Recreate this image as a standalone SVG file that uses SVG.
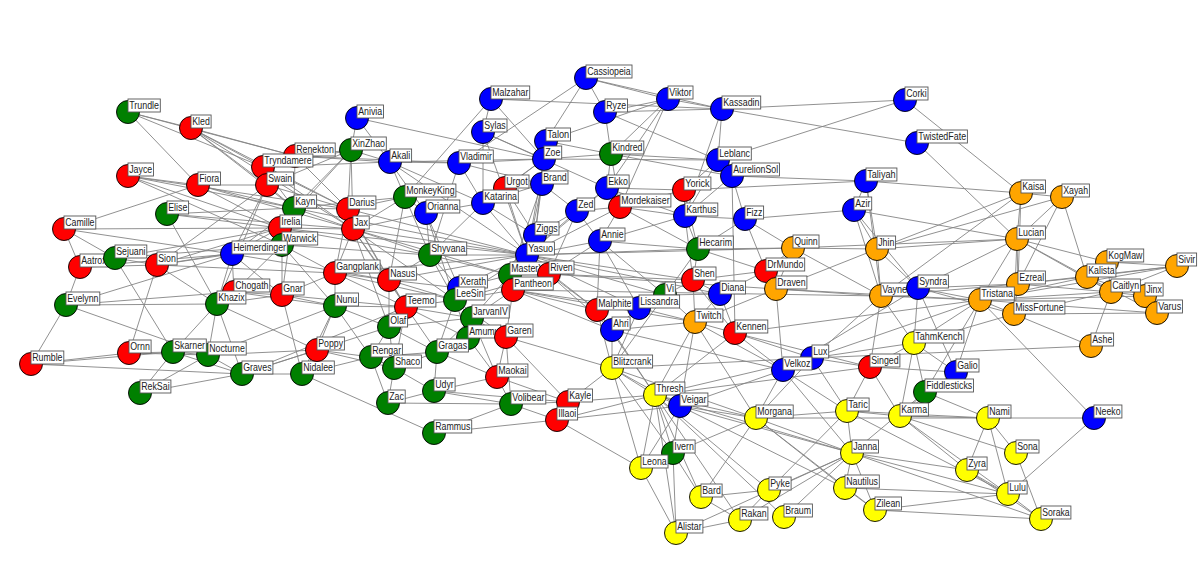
<svg xmlns="http://www.w3.org/2000/svg" width="1200" height="573" viewBox="0 0 1200 573">
<style>
.e{stroke:#858585;stroke-width:0.9;fill:none}
circle{stroke:#000;stroke-width:0.9}
.R{fill:#ff0000}.G{fill:#008000}.B{fill:#0000ff}.O{fill:#ffa500}.Y{fill:#ffff00}
g rect{fill:#fff;stroke:#555;stroke-width:0.9}
text{font-family:"Liberation Sans",Arial,sans-serif;font-size:11px;fill:#222}
</style>
<rect width="1200" height="573" fill="#fff"/>
<g id="edges" class="e">
<path d="M128 112L263 167M128 112L295 156M128 112L198 185M128 112L191 128M191 128L263 167M191 128L295 156M191 128L267 185M191 128L294 208M191 128L348 209M191 128L353 229M128 176L294 208M128 176L280 228M128 176L198 185M128 176L282 245M128 176L348 209M198 185L64 229M198 185L294 208M198 185L280 228M198 185L353 229M198 185L267 185M167 214L294 208M167 214L217 304M167 214L280 228M167 214L353 229M64 229L280 228M64 229L80 267M64 229L115 258M64 229L232 254M263 167L295 156M263 167L294 208M263 167L348 209M263 167L351 150M263 167L353 229M263 167L390 162M267 185L294 208M267 185L232 254M267 185L157 265M267 185L348 209M267 185L351 150M267 185L217 304M295 156L390 162M295 156L351 150M295 156L294 208M295 156L348 209M295 156L459 163M294 208L348 209M294 208L280 228M294 208L353 229M294 208L282 245M294 208L232 254M294 208L405 197M294 208L282 295M294 208L527 255M280 228L353 229M280 228L157 265M280 228L115 258M280 228L232 254M280 228L527 255M280 228L430 255"/>
<path d="M357 118L351 150M357 118L390 162M357 118L544 159M351 150L348 209M351 150L294 208M351 150L280 228M351 150L353 229M351 150L390 162M390 162L426 213M390 162L459 163M390 162L544 159M390 162L405 197M390 162L527 255M390 162L483 203M491 99L405 197M491 99L544 159M491 99L722 109M491 99L483 132M483 132L544 159M483 132L607 188M483 132L483 203M483 132L527 255M459 163L483 203M459 163L544 159M459 163L542 184M459 163L430 255M546 141L544 159M546 141L586 78M546 141L611 154M546 141L668 99M544 159L542 184M544 159L483 203M544 159L535 235M544 159L611 154M544 159L527 255M544 159L718 160M542 184L535 235M542 184L577 211M542 184L483 203M542 184L527 255M542 184L510 275M505 188L544 159M505 188L483 203M505 188L527 255M505 188L535 235M483 203L535 235M483 203L426 213M483 203L527 255M483 203L430 255M405 197L348 209M405 197L426 213M405 197L353 229M405 197L430 255M405 197L389 280M426 213L353 229M426 213L430 255M426 213L459 288M426 213L455 300M348 209L353 229M348 209L335 273M348 209L389 280M348 209L527 255M348 209L406 307M353 229L335 273M353 229L389 280M353 229L430 255M353 229L527 255M353 229L455 300M353 229L406 307M353 229L510 275M353 229L389 327"/>
<path d="M577 211L535 235M577 211L607 188M577 211L527 255M577 211L600 241M577 211L620 207M577 211L549 274M586 78L459 163M586 78L605 112M586 78L668 99M586 78L722 109M535 235L527 255M535 235L510 275M535 235L513 290M605 112L611 154M605 112L718 160M605 112L668 99M605 112L722 109M607 188L611 154M607 188L620 207M607 188L527 255M607 188L685 216M607 188L684 190M668 99L722 109M668 99L611 154M668 99L620 207M668 99L607 188M722 109L718 160M722 109L905 100M722 109L917 143M722 109L685 216M611 154L718 160M611 154L732 176M611 154L620 207M718 160L732 176M718 160L905 100M718 160L684 190M718 160L685 216M732 176L866 181M732 176L745 219M732 176L685 216M732 176L735 333M866 181L1021 193M866 181L854 210M866 181L877 249M866 181L881 296M684 190L620 207M684 190L685 216M684 190L866 181M684 190L698 249M620 207L685 216M620 207L600 241M620 207L698 249M620 207L527 255M685 216L745 219M685 216L600 241M685 216L698 249M685 216L693 280M745 219L854 210M745 219L698 249M745 219L766 271M745 219L793 248M854 210L877 249M854 210L1017 239M854 210L881 296M854 210L918 288M917 143L1017 239M905 100L1021 193M1021 193L1062 197M1021 193L1017 239M1021 193L881 296M1021 193L877 249M1021 193L1018 284M1062 197L1017 239M1062 197L877 249M1062 197L1018 284M1062 197L1087 277"/>
<path d="M80 267L66 305M80 267L115 258M80 267L157 265M80 267L232 254M115 258L173 352M115 258L157 265M115 258L282 245M157 265L232 254M157 265L282 245M157 265L129 353M157 265L217 304M157 265L335 273M232 254L217 304M232 254L234 292M232 254L282 245M232 254L282 295M232 254L66 305M232 254L389 280M282 245L234 292M282 245L282 295M282 245L335 273M282 245L335 306M282 245L430 255M66 305L217 304M66 305L208 355M66 305L31 364M66 305L234 292M234 292L217 304M234 292L282 295M234 292L335 306M217 304L173 352M217 304L208 355M217 304L242 374M217 304L282 295M217 304L317 350M282 295L335 306M282 295L335 273M282 295L406 307M282 295L302 374M31 364L129 353M31 364L242 374M31 364L173 352M129 353L173 352M129 353L208 355M173 352L140 393M173 352L208 355M173 352L242 374M208 355L140 393M208 355L242 374M208 355L335 306M208 355L317 350M242 374L140 393M242 374L302 374M242 374L317 350M242 374L406 307M242 374L389 327M302 374L317 350M302 374L434 433M302 374L371 357M302 374L335 306"/>
<path d="M430 255L527 255M430 255L389 280M430 255L455 300M430 255L459 288M430 255L510 275M335 273L389 280M335 273L335 306M335 273L406 307M335 273L527 255M335 273L455 300M389 280L406 307M389 280L389 327M389 280L455 300M389 280L527 255M389 280L459 288M335 306L389 327M335 306L406 307M335 306L371 357M335 306L317 350M406 307L389 327M406 307L455 300M406 307L472 318M406 307L468 338M406 307L437 352M406 307L394 368M389 327L371 357M389 327L394 368M389 327L437 352M389 327L472 318M459 288L455 300M459 288L527 255M459 288L510 275M455 300L527 255M455 300L472 318M455 300L513 290M455 300L468 338M455 300L506 337M455 300L437 352M455 300L549 274M527 255L510 275M527 255L549 274M527 255L513 290M527 255L600 241M527 255L693 280M527 255L597 310M527 255L639 308M527 255L665 295M527 255L698 249M527 255L612 330M527 255L720 294M527 255L793 248M510 275L513 290M510 275L549 274M510 275L472 318M549 274L513 290M549 274L693 280M549 274L597 310M549 274L600 241M549 274L776 289M513 290L472 318M513 290L506 337M513 290L597 310M513 290L639 308M513 290L612 330M513 290L695 322M513 290L881 296"/>
<path d="M472 318L468 338M472 318L506 337M472 318L437 352M472 318L497 377M468 338L506 337M468 338L437 352M468 338L497 377M506 337L497 377M506 337L568 402M506 337L511 404M506 337L612 368M437 352L371 357M437 352L394 368M437 352L434 391M437 352L497 377M371 357L394 368M371 357L388 403M371 357L317 350M394 368L434 391M394 368L388 403M394 368L317 350M497 377L511 404M497 377L568 402M497 377L434 391M434 391L511 404M434 391L568 402M434 391L388 403M388 403L511 404M434 433L511 404M434 433L557 420M511 404L568 402M511 404L557 420M568 402L557 420M568 402L655 395M568 402L612 368M557 420L655 395M557 420L641 468M557 420L680 406"/>
<path d="M600 241L698 249M600 241L597 310M600 241L639 308M600 241L665 295M698 249L693 280M698 249L665 295M698 249L793 248M698 249L766 271M793 248L877 249M793 248L766 271M793 248L1017 239M793 248L881 296M793 248L776 289M877 249L881 296M877 249L1017 239M877 249L918 288M877 249L776 289M766 271L776 289M766 271L693 280M766 271L720 294M776 289L881 296M776 289L980 300M776 289L783 370M776 289L695 322M881 296L918 288M881 296L980 300M881 296L1018 284M881 296L914 343M881 296L870 367M881 296L812 358M693 280L720 294M693 280L695 322M693 280L665 295M693 280L735 333M720 294L695 322M720 294L735 333M720 294L665 295M665 295L639 308M665 295L695 322M665 295L612 368M639 308L597 310M639 308L612 330M639 308L695 322M639 308L612 368M597 310L612 330M597 310L612 368M597 310L655 395M612 330L612 368M612 330L655 395M612 330L695 322M612 330L783 370M695 322L735 333M695 322L655 395M695 322L680 406M695 322L756 418M695 322L783 370M735 333L783 370M735 333L812 358M735 333L870 367M735 333L655 395M735 333L980 300M612 368L655 395M612 368L680 406M612 368L641 468M612 368L673 453M612 368L756 418M612 368L812 358M812 358L783 370M812 358L870 367M812 358L847 411M812 358L756 418M812 358L914 343M812 358L980 300M783 370L756 418M783 370L847 411M783 370L852 453M783 370L680 406M783 370L918 288M870 367L914 343M870 367L900 416M870 367L847 411M870 367L956 372M655 395L680 406M655 395L641 468M655 395L673 453M655 395L701 497M655 395L676 533M655 395L740 520M655 395L769 490M655 395L756 418M655 395L852 453M655 395L784 517M655 395L812 358M655 395L870 367"/>
<path d="M1017 239L1018 284M1017 239L1087 277M1017 239L1111 292M1017 239L980 300M1017 239L1014 314M1017 239L1107 262M1017 239L918 288M1107 262L1177 266M1107 262L1087 277M1107 262L1111 292M1087 277L1018 284M1087 277L1111 292M1087 277L1145 296M1087 277L980 300M1087 277L1177 266M1177 266L1018 284M1177 266L980 300M1177 266L1111 292M1018 284L980 300M1018 284L1111 292M1018 284L1014 314M1018 284L918 288M1111 292L1145 296M1111 292L1091 346M1111 292L980 300M1111 292L1014 314M1145 296L1157 313M1145 296L980 300M1157 313L1014 314M1157 313L980 300M1157 313L1087 277M918 288L980 300M918 288L956 372M918 288L914 343M918 288L1014 314M980 300L1014 314M980 300L914 343M980 300L956 372M980 300L1094 418M980 300L925 392M1014 314L1091 346M1014 314L914 343M1091 346L812 358M914 343L956 372M914 343L925 392M914 343L900 416M956 372L925 392M956 372L900 416M925 392L988 418M925 392L900 416M925 392L852 453"/>
<path d="M680 406L756 418M680 406L845 488M680 406L673 453M680 406L852 453M680 406L641 468M756 418L673 453M756 418L701 497M756 418L852 453M756 418L845 488M756 418L847 411M756 418L875 510M756 418L988 418M847 411L769 490M847 411L852 453M847 411L900 416M847 411L988 418M847 411L1008 494M900 416L988 418M900 416L1016 453M900 416L967 470M900 416L1008 494M852 453L769 490M852 453L740 520M852 453L784 517M852 453L676 533M852 453L875 510M852 453L1008 494M852 453L1041 519M852 453L845 488M852 453L967 470M673 453L701 497M673 453L641 468M673 453L676 533M641 468L676 533M701 497L740 520M701 497L769 490M769 490L740 520M845 488L875 510M845 488L1008 494M740 520L676 533M988 418L1094 418M988 418L967 470M988 418L1008 494M988 418L1016 453M1094 418L1008 494M1016 453L1041 519M967 470L1008 494M967 470L1041 519M1008 494L1041 519M875 510L1041 519M875 510L1008 494"/>
</g>
<g id="Trundle" transform="translate(128 112)"><circle class="G" r="11.5"/><rect y="-13" width="32.3" height="13"/><text x="1.2" y="-2.6" textLength="29.8" lengthAdjust="spacingAndGlyphs">Trundle</text></g>
<g id="Kled" transform="translate(191 128)"><circle class="R" r="11.5"/><rect y="-13" width="20.1" height="13"/><text x="1.2" y="-2.6" textLength="17.6" lengthAdjust="spacingAndGlyphs">Kled</text></g>
<g id="Jayce" transform="translate(128 176)"><circle class="R" r="11.5"/><rect y="-13" width="25.5" height="13"/><text x="1.2" y="-2.6" textLength="23" lengthAdjust="spacingAndGlyphs">Jayce</text></g>
<g id="Fiora" transform="translate(198 185)"><circle class="R" r="11.5"/><rect y="-13" width="22.5" height="13"/><text x="1.2" y="-2.6" textLength="20" lengthAdjust="spacingAndGlyphs">Fiora</text></g>
<g id="Elise" transform="translate(167 214)"><circle class="G" r="11.5"/><rect y="-13" width="21.6" height="13"/><text x="1.2" y="-2.6" textLength="19.1" lengthAdjust="spacingAndGlyphs">Elise</text></g>
<g id="Camille" transform="translate(64 229)"><circle class="R" r="11.5"/><rect y="-13" width="31.8" height="13"/><text x="1.2" y="-2.6" textLength="29.3" lengthAdjust="spacingAndGlyphs">Camille</text></g>
<g id="Renekton" transform="translate(295 156)"><circle class="R" r="11.5"/><rect y="-13" width="40.2" height="13"/><text x="1.2" y="-2.6" textLength="37.7" lengthAdjust="spacingAndGlyphs">Renekton</text></g>
<g id="Tryndamere" transform="translate(263 167)"><circle class="R" r="11.5"/><rect y="-13" width="49.9" height="13"/><text x="1.2" y="-2.6" textLength="47.4" lengthAdjust="spacingAndGlyphs">Tryndamere</text></g>
<g id="Swain" transform="translate(267 185)"><circle class="R" r="11.5"/><rect y="-13" width="26.5" height="13"/><text x="1.2" y="-2.6" textLength="24" lengthAdjust="spacingAndGlyphs">Swain</text></g>
<g id="Kayn" transform="translate(294 208)"><circle class="G" r="11.5"/><rect y="-13" width="22.6" height="13"/><text x="1.2" y="-2.6" textLength="20.1" lengthAdjust="spacingAndGlyphs">Kayn</text></g>
<g id="Irelia" transform="translate(280 228)"><circle class="R" r="11.5"/><rect y="-13" width="21.6" height="13"/><text x="1.2" y="-2.6" textLength="19.1" lengthAdjust="spacingAndGlyphs">Irelia</text></g>
<g id="Warwick" transform="translate(282 245)"><circle class="G" r="11.5"/><rect y="-13" width="35.7" height="13"/><text x="1.2" y="-2.6" textLength="33.2" lengthAdjust="spacingAndGlyphs">Warwick</text></g>
<g id="Heimerdinger" transform="translate(232 254)"><circle class="B" r="11.5"/><rect y="-13" width="55.3" height="13"/><text x="1.2" y="-2.6" textLength="52.8" lengthAdjust="spacingAndGlyphs">Heimerdinger</text></g>
<g id="Anivia" transform="translate(357 118)"><circle class="B" r="11.5"/><rect y="-13" width="26.5" height="13"/><text x="1.2" y="-2.6" textLength="24" lengthAdjust="spacingAndGlyphs">Anivia</text></g>
<g id="XinZhao" transform="translate(351 150)"><circle class="G" r="11.5"/><rect y="-13" width="35.3" height="13"/><text x="1.2" y="-2.6" textLength="32.8" lengthAdjust="spacingAndGlyphs">XinZhao</text></g>
<g id="Akali" transform="translate(390 162)"><circle class="B" r="11.5"/><rect y="-13" width="21.6" height="13"/><text x="1.2" y="-2.6" textLength="19.1" lengthAdjust="spacingAndGlyphs">Akali</text></g>
<g id="Malzahar" transform="translate(491 99)"><circle class="B" r="11.5"/><rect y="-13" width="38.7" height="13"/><text x="1.2" y="-2.6" textLength="36.2" lengthAdjust="spacingAndGlyphs">Malzahar</text></g>
<g id="Sylas" transform="translate(483 132)"><circle class="B" r="11.5"/><rect y="-13" width="24" height="13"/><text x="1.2" y="-2.6" textLength="21.5" lengthAdjust="spacingAndGlyphs">Sylas</text></g>
<g id="Vladimir" transform="translate(459 163)"><circle class="B" r="11.5"/><rect y="-13" width="34.3" height="13"/><text x="1.2" y="-2.6" textLength="31.8" lengthAdjust="spacingAndGlyphs">Vladimir</text></g>
<g id="Talon" transform="translate(546 141)"><circle class="B" r="11.5"/><rect y="-13" width="24.5" height="13"/><text x="1.2" y="-2.6" textLength="22" lengthAdjust="spacingAndGlyphs">Talon</text></g>
<g id="Zoe" transform="translate(544 159)"><circle class="B" r="11.5"/><rect y="-13" width="17.7" height="13"/><text x="1.2" y="-2.6" textLength="15.2" lengthAdjust="spacingAndGlyphs">Zoe</text></g>
<g id="Urgot" transform="translate(505 188)"><circle class="R" r="11.5"/><rect y="-13" width="24" height="13"/><text x="1.2" y="-2.6" textLength="21.5" lengthAdjust="spacingAndGlyphs">Urgot</text></g>
<g id="Brand" transform="translate(542 184)"><circle class="B" r="11.5"/><rect y="-13" width="26" height="13"/><text x="1.2" y="-2.6" textLength="23.5" lengthAdjust="spacingAndGlyphs">Brand</text></g>
<g id="Katarina" transform="translate(483 203)"><circle class="B" r="11.5"/><rect y="-13" width="35.3" height="13"/><text x="1.2" y="-2.6" textLength="32.8" lengthAdjust="spacingAndGlyphs">Katarina</text></g>
<g id="MonkeyKing" transform="translate(405 197)"><circle class="G" r="11.5"/><rect y="-13" width="50.9" height="13"/><text x="1.2" y="-2.6" textLength="48.4" lengthAdjust="spacingAndGlyphs">MonkeyKing</text></g>
<g id="Orianna" transform="translate(426 213)"><circle class="B" r="11.5"/><rect y="-13" width="33.8" height="13"/><text x="1.2" y="-2.6" textLength="31.3" lengthAdjust="spacingAndGlyphs">Orianna</text></g>
<g id="Darius" transform="translate(348 209)"><circle class="R" r="11.5"/><rect y="-13" width="27.9" height="13"/><text x="1.2" y="-2.6" textLength="25.4" lengthAdjust="spacingAndGlyphs">Darius</text></g>
<g id="Jax" transform="translate(353 229)"><circle class="R" r="11.5"/><rect y="-13" width="16.2" height="13"/><text x="1.2" y="-2.6" textLength="13.7" lengthAdjust="spacingAndGlyphs">Jax</text></g>
<g id="Zed" transform="translate(577 211)"><circle class="B" r="11.5"/><rect y="-13" width="17.7" height="13"/><text x="1.2" y="-2.6" textLength="15.2" lengthAdjust="spacingAndGlyphs">Zed</text></g>
<g id="Cassiopeia" transform="translate(586 78)"><circle class="B" r="11.5"/><rect y="-13" width="46" height="13"/><text x="1.2" y="-2.6" textLength="43.5" lengthAdjust="spacingAndGlyphs">Cassiopeia</text></g>
<g id="Ziggs" transform="translate(535 235)"><circle class="B" r="11.5"/><rect y="-13" width="24" height="13"/><text x="1.2" y="-2.6" textLength="21.5" lengthAdjust="spacingAndGlyphs">Ziggs</text></g>
<g id="Ryze" transform="translate(605 112)"><circle class="B" r="11.5"/><rect y="-13" width="22.5" height="13"/><text x="1.2" y="-2.6" textLength="20" lengthAdjust="spacingAndGlyphs">Ryze</text></g>
<g id="Ekko" transform="translate(607 188)"><circle class="B" r="11.5"/><rect y="-13" width="22.1" height="13"/><text x="1.2" y="-2.6" textLength="19.6" lengthAdjust="spacingAndGlyphs">Ekko</text></g>
<g id="Viktor" transform="translate(668 99)"><circle class="B" r="11.5"/><rect y="-13" width="25" height="13"/><text x="1.2" y="-2.6" textLength="22.5" lengthAdjust="spacingAndGlyphs">Viktor</text></g>
<g id="Kassadin" transform="translate(722 109)"><circle class="B" r="11.5"/><rect y="-13" width="38.7" height="13"/><text x="1.2" y="-2.6" textLength="36.2" lengthAdjust="spacingAndGlyphs">Kassadin</text></g>
<g id="Corki" transform="translate(905 100)"><circle class="B" r="11.5"/><rect y="-13" width="23" height="13"/><text x="1.2" y="-2.6" textLength="20.5" lengthAdjust="spacingAndGlyphs">Corki</text></g>
<g id="Kindred" transform="translate(611 154)"><circle class="G" r="11.5"/><rect y="-13" width="32.8" height="13"/><text x="1.2" y="-2.6" textLength="30.3" lengthAdjust="spacingAndGlyphs">Kindred</text></g>
<g id="Leblanc" transform="translate(718 160)"><circle class="B" r="11.5"/><rect y="-13" width="33.3" height="13"/><text x="1.2" y="-2.6" textLength="30.8" lengthAdjust="spacingAndGlyphs">Leblanc</text></g>
<g id="AurelionSol" transform="translate(732 176)"><circle class="B" r="11.5"/><rect y="-13" width="47.5" height="13"/><text x="1.2" y="-2.6" textLength="45" lengthAdjust="spacingAndGlyphs">AurelionSol</text></g>
<g id="Taliyah" transform="translate(866 181)"><circle class="B" r="11.5"/><rect y="-13" width="30.9" height="13"/><text x="1.2" y="-2.6" textLength="28.4" lengthAdjust="spacingAndGlyphs">Taliyah</text></g>
<g id="Yorick" transform="translate(684 190)"><circle class="R" r="11.5"/><rect y="-13" width="26.9" height="13"/><text x="1.2" y="-2.6" textLength="24.4" lengthAdjust="spacingAndGlyphs">Yorick</text></g>
<g id="Mordekaiser" transform="translate(620 207)"><circle class="R" r="11.5"/><rect y="-13" width="50.9" height="13"/><text x="1.2" y="-2.6" textLength="48.4" lengthAdjust="spacingAndGlyphs">Mordekaiser</text></g>
<g id="Karthus" transform="translate(685 216)"><circle class="B" r="11.5"/><rect y="-13" width="32.8" height="13"/><text x="1.2" y="-2.6" textLength="30.3" lengthAdjust="spacingAndGlyphs">Karthus</text></g>
<g id="Fizz" transform="translate(745 219)"><circle class="B" r="11.5"/><rect y="-13" width="18.6" height="13"/><text x="1.2" y="-2.6" textLength="16.1" lengthAdjust="spacingAndGlyphs">Fizz</text></g>
<g id="Azir" transform="translate(854 210)"><circle class="B" r="11.5"/><rect y="-13" width="17.7" height="13"/><text x="1.2" y="-2.6" textLength="15.2" lengthAdjust="spacingAndGlyphs">Azir</text></g>
<g id="TwistedFate" transform="translate(917 143)"><circle class="B" r="11.5"/><rect y="-13" width="50.4" height="13"/><text x="1.2" y="-2.6" textLength="47.9" lengthAdjust="spacingAndGlyphs">TwistedFate</text></g>
<g id="Kaisa" transform="translate(1021 193)"><circle class="O" r="11.5"/><rect y="-13" width="24.5" height="13"/><text x="1.2" y="-2.6" textLength="22" lengthAdjust="spacingAndGlyphs">Kaisa</text></g>
<g id="Xayah" transform="translate(1062 197)"><circle class="O" r="11.5"/><rect y="-13" width="27.4" height="13"/><text x="1.2" y="-2.6" textLength="24.9" lengthAdjust="spacingAndGlyphs">Xayah</text></g>
<g id="Aatrox" transform="translate(80 267)"><circle class="R" r="11.5"/><rect y="-13" width="27.9" height="13"/><text x="1.2" y="-2.6" textLength="25.4" lengthAdjust="spacingAndGlyphs">Aatrox</text></g>
<g id="Sejuani" transform="translate(115 258)"><circle class="G" r="11.5"/><rect y="-13" width="31.8" height="13"/><text x="1.2" y="-2.6" textLength="29.3" lengthAdjust="spacingAndGlyphs">Sejuani</text></g>
<g id="Sion" transform="translate(157 265)"><circle class="R" r="11.5"/><rect y="-13" width="20.1" height="13"/><text x="1.2" y="-2.6" textLength="17.6" lengthAdjust="spacingAndGlyphs">Sion</text></g>
<g id="Evelynn" transform="translate(66 305)"><circle class="G" r="11.5"/><rect y="-13" width="33.8" height="13"/><text x="1.2" y="-2.6" textLength="31.3" lengthAdjust="spacingAndGlyphs">Evelynn</text></g>
<g id="Chogath" transform="translate(234 292)"><circle class="R" r="11.5"/><rect y="-13" width="35.8" height="13"/><text x="1.2" y="-2.6" textLength="33.3" lengthAdjust="spacingAndGlyphs">Chogath</text></g>
<g id="Khazix" transform="translate(217 304)"><circle class="G" r="11.5"/><rect y="-13" width="28.9" height="13"/><text x="1.2" y="-2.6" textLength="26.4" lengthAdjust="spacingAndGlyphs">Khazix</text></g>
<g id="Gnar" transform="translate(282 295)"><circle class="R" r="11.5"/><rect y="-13" width="22.1" height="13"/><text x="1.2" y="-2.6" textLength="19.6" lengthAdjust="spacingAndGlyphs">Gnar</text></g>
<g id="Rumble" transform="translate(31 364)"><circle class="R" r="11.5"/><rect y="-13" width="32.8" height="13"/><text x="1.2" y="-2.6" textLength="30.3" lengthAdjust="spacingAndGlyphs">Rumble</text></g>
<g id="Ornn" transform="translate(129 353)"><circle class="R" r="11.5"/><rect y="-13" width="22.1" height="13"/><text x="1.2" y="-2.6" textLength="19.6" lengthAdjust="spacingAndGlyphs">Ornn</text></g>
<g id="Nocturne" transform="translate(208 355)"><circle class="G" r="11.5"/><rect y="-13" width="38.2" height="13"/><text x="1.2" y="-2.6" textLength="35.7" lengthAdjust="spacingAndGlyphs">Nocturne</text></g>
<g id="Skarner" transform="translate(173 352)"><circle class="G" r="11.5"/><rect y="-13" width="33.3" height="13"/><text x="1.2" y="-2.6" textLength="30.8" lengthAdjust="spacingAndGlyphs">Skarner</text></g>
<g id="Graves" transform="translate(242 374)"><circle class="G" r="11.5"/><rect y="-13" width="30.9" height="13"/><text x="1.2" y="-2.6" textLength="28.4" lengthAdjust="spacingAndGlyphs">Graves</text></g>
<g id="RekSai" transform="translate(140 393)"><circle class="G" r="11.5"/><rect y="-13" width="30.9" height="13"/><text x="1.2" y="-2.6" textLength="28.4" lengthAdjust="spacingAndGlyphs">RekSai</text></g>
<g id="Nidalee" transform="translate(302 374)"><circle class="G" r="11.5"/><rect y="-13" width="32.3" height="13"/><text x="1.2" y="-2.6" textLength="29.8" lengthAdjust="spacingAndGlyphs">Nidalee</text></g>
<g id="Shyvana" transform="translate(430 255)"><circle class="G" r="11.5"/><rect y="-13" width="36.7" height="13"/><text x="1.2" y="-2.6" textLength="34.2" lengthAdjust="spacingAndGlyphs">Shyvana</text></g>
<g id="Gangplank" transform="translate(335 273)"><circle class="R" r="11.5"/><rect y="-13" width="45.1" height="13"/><text x="1.2" y="-2.6" textLength="42.6" lengthAdjust="spacingAndGlyphs">Gangplank</text></g>
<g id="Nasus" transform="translate(389 280)"><circle class="R" r="11.5"/><rect y="-13" width="27.4" height="13"/><text x="1.2" y="-2.6" textLength="24.9" lengthAdjust="spacingAndGlyphs">Nasus</text></g>
<g id="Nunu" transform="translate(335 306)"><circle class="G" r="11.5"/><rect y="-13" width="23.5" height="13"/><text x="1.2" y="-2.6" textLength="21" lengthAdjust="spacingAndGlyphs">Nunu</text></g>
<g id="Teemo" transform="translate(406 307)"><circle class="R" r="11.5"/><rect y="-13" width="29.9" height="13"/><text x="1.2" y="-2.6" textLength="27.4" lengthAdjust="spacingAndGlyphs">Teemo</text></g>
<g id="Olaf" transform="translate(389 327)"><circle class="G" r="11.5"/><rect y="-13" width="18.6" height="13"/><text x="1.2" y="-2.6" textLength="16.1" lengthAdjust="spacingAndGlyphs">Olaf</text></g>
<g id="Xerath" transform="translate(459 288)"><circle class="B" r="11.5"/><rect y="-13" width="28.4" height="13"/><text x="1.2" y="-2.6" textLength="25.9" lengthAdjust="spacingAndGlyphs">Xerath</text></g>
<g id="LeeSin" transform="translate(455 300)"><circle class="G" r="11.5"/><rect y="-13" width="29.9" height="13"/><text x="1.2" y="-2.6" textLength="27.4" lengthAdjust="spacingAndGlyphs">LeeSin</text></g>
<g id="Yasuo" transform="translate(527 255)"><circle class="B" r="11.5"/><rect y="-13" width="27.4" height="13"/><text x="1.2" y="-2.6" textLength="24.9" lengthAdjust="spacingAndGlyphs">Yasuo</text></g>
<g id="MasterYi" transform="translate(510 275)"><circle class="G" r="11.5"/><rect y="-13" width="37.2" height="13"/><text x="1.2" y="-2.6" textLength="34.7" lengthAdjust="spacingAndGlyphs">MasterYi</text></g>
<g id="Riven" transform="translate(549 274)"><circle class="R" r="11.5"/><rect y="-13" width="25" height="13"/><text x="1.2" y="-2.6" textLength="22.5" lengthAdjust="spacingAndGlyphs">Riven</text></g>
<g id="Pantheon" transform="translate(513 290)"><circle class="R" r="11.5"/><rect y="-13" width="40.2" height="13"/><text x="1.2" y="-2.6" textLength="37.7" lengthAdjust="spacingAndGlyphs">Pantheon</text></g>
<g id="JarvanIV" transform="translate(472 318)"><circle class="G" r="11.5"/><rect y="-13" width="37.2" height="13"/><text x="1.2" y="-2.6" textLength="34.7" lengthAdjust="spacingAndGlyphs">JarvanIV</text></g>
<g id="Amumu" transform="translate(468 338)"><circle class="G" r="11.5"/><rect y="-13" width="32.8" height="13"/><text x="1.2" y="-2.6" textLength="30.3" lengthAdjust="spacingAndGlyphs">Amumu</text></g>
<g id="Garen" transform="translate(506 337)"><circle class="R" r="11.5"/><rect y="-13" width="27" height="13"/><text x="1.2" y="-2.6" textLength="24.5" lengthAdjust="spacingAndGlyphs">Garen</text></g>
<g id="Gragas" transform="translate(437 352)"><circle class="G" r="11.5"/><rect y="-13" width="31.4" height="13"/><text x="1.2" y="-2.6" textLength="28.9" lengthAdjust="spacingAndGlyphs">Gragas</text></g>
<g id="Rengar" transform="translate(371 357)"><circle class="G" r="11.5"/><rect y="-13" width="31.4" height="13"/><text x="1.2" y="-2.6" textLength="28.9" lengthAdjust="spacingAndGlyphs">Rengar</text></g>
<g id="Shaco" transform="translate(394 368)"><circle class="G" r="11.5"/><rect y="-13" width="27.4" height="13"/><text x="1.2" y="-2.6" textLength="24.9" lengthAdjust="spacingAndGlyphs">Shaco</text></g>
<g id="Poppy" transform="translate(317 350)"><circle class="R" r="11.5"/><rect y="-13" width="27.4" height="13"/><text x="1.2" y="-2.6" textLength="24.9" lengthAdjust="spacingAndGlyphs">Poppy</text></g>
<g id="Maokai" transform="translate(497 377)"><circle class="R" r="11.5"/><rect y="-13" width="30.9" height="13"/><text x="1.2" y="-2.6" textLength="28.4" lengthAdjust="spacingAndGlyphs">Maokai</text></g>
<g id="Udyr" transform="translate(434 391)"><circle class="G" r="11.5"/><rect y="-13" width="21.1" height="13"/><text x="1.2" y="-2.6" textLength="18.6" lengthAdjust="spacingAndGlyphs">Udyr</text></g>
<g id="Zac" transform="translate(388 403)"><circle class="G" r="11.5"/><rect y="-13" width="17.2" height="13"/><text x="1.2" y="-2.6" textLength="14.7" lengthAdjust="spacingAndGlyphs">Zac</text></g>
<g id="Rammus" transform="translate(434 433)"><circle class="G" r="11.5"/><rect y="-13" width="37.7" height="13"/><text x="1.2" y="-2.6" textLength="35.2" lengthAdjust="spacingAndGlyphs">Rammus</text></g>
<g id="Volibear" transform="translate(511 404)"><circle class="G" r="11.5"/><rect y="-13" width="34.8" height="13"/><text x="1.2" y="-2.6" textLength="32.3" lengthAdjust="spacingAndGlyphs">Volibear</text></g>
<g id="Kayle" transform="translate(568 402)"><circle class="R" r="11.5"/><rect y="-13" width="24.5" height="13"/><text x="1.2" y="-2.6" textLength="22" lengthAdjust="spacingAndGlyphs">Kayle</text></g>
<g id="Illaoi" transform="translate(557 420)"><circle class="R" r="11.5"/><rect y="-13" width="20.6" height="13"/><text x="1.2" y="-2.6" textLength="18.1" lengthAdjust="spacingAndGlyphs">Illaoi</text></g>
<g id="Annie" transform="translate(600 241)"><circle class="B" r="11.5"/><rect y="-13" width="25" height="13"/><text x="1.2" y="-2.6" textLength="22.5" lengthAdjust="spacingAndGlyphs">Annie</text></g>
<g id="Hecarim" transform="translate(698 249)"><circle class="G" r="11.5"/><rect y="-13" width="35.3" height="13"/><text x="1.2" y="-2.6" textLength="32.8" lengthAdjust="spacingAndGlyphs">Hecarim</text></g>
<g id="Quinn" transform="translate(793 248)"><circle class="O" r="11.5"/><rect y="-13" width="26" height="13"/><text x="1.2" y="-2.6" textLength="23.5" lengthAdjust="spacingAndGlyphs">Quinn</text></g>
<g id="Jhin" transform="translate(877 249)"><circle class="O" r="11.5"/><rect y="-13" width="18.6" height="13"/><text x="1.2" y="-2.6" textLength="16.1" lengthAdjust="spacingAndGlyphs">Jhin</text></g>
<g id="DrMundo" transform="translate(766 271)"><circle class="R" r="11.5"/><rect y="-13" width="38.7" height="13"/><text x="1.2" y="-2.6" textLength="36.2" lengthAdjust="spacingAndGlyphs">DrMundo</text></g>
<g id="Draven" transform="translate(776 289)"><circle class="O" r="11.5"/><rect y="-13" width="30.9" height="13"/><text x="1.2" y="-2.6" textLength="28.4" lengthAdjust="spacingAndGlyphs">Draven</text></g>
<g id="Vayne" transform="translate(881 296)"><circle class="O" r="11.5"/><rect y="-13" width="27.4" height="13"/><text x="1.2" y="-2.6" textLength="24.9" lengthAdjust="spacingAndGlyphs">Vayne</text></g>
<g id="Shen" transform="translate(693 280)"><circle class="R" r="11.5"/><rect y="-13" width="23" height="13"/><text x="1.2" y="-2.6" textLength="20.5" lengthAdjust="spacingAndGlyphs">Shen</text></g>
<g id="Diana" transform="translate(720 294)"><circle class="B" r="11.5"/><rect y="-13" width="25.5" height="13"/><text x="1.2" y="-2.6" textLength="23" lengthAdjust="spacingAndGlyphs">Diana</text></g>
<g id="Vi" transform="translate(665 295)"><circle class="G" r="11.5"/><rect y="-13" width="10.3" height="13"/><text x="1.2" y="-2.6" textLength="7.8" lengthAdjust="spacingAndGlyphs">Vi</text></g>
<g id="Lissandra" transform="translate(639 308)"><circle class="B" r="11.5"/><rect y="-13" width="40.6" height="13"/><text x="1.2" y="-2.6" textLength="38.1" lengthAdjust="spacingAndGlyphs">Lissandra</text></g>
<g id="Malphite" transform="translate(597 310)"><circle class="R" r="11.5"/><rect y="-13" width="35.8" height="13"/><text x="1.2" y="-2.6" textLength="33.3" lengthAdjust="spacingAndGlyphs">Malphite</text></g>
<g id="Ahri" transform="translate(612 330)"><circle class="B" r="11.5"/><rect y="-13" width="18.1" height="13"/><text x="1.2" y="-2.6" textLength="15.6" lengthAdjust="spacingAndGlyphs">Ahri</text></g>
<g id="Twitch" transform="translate(695 322)"><circle class="O" r="11.5"/><rect y="-13" width="27.9" height="13"/><text x="1.2" y="-2.6" textLength="25.4" lengthAdjust="spacingAndGlyphs">Twitch</text></g>
<g id="Kennen" transform="translate(735 333)"><circle class="R" r="11.5"/><rect y="-13" width="32.8" height="13"/><text x="1.2" y="-2.6" textLength="30.3" lengthAdjust="spacingAndGlyphs">Kennen</text></g>
<g id="Blitzcrank" transform="translate(612 368)"><circle class="Y" r="11.5"/><rect y="-13" width="40.6" height="13"/><text x="1.2" y="-2.6" textLength="38.1" lengthAdjust="spacingAndGlyphs">Blitzcrank</text></g>
<g id="Lux" transform="translate(812 358)"><circle class="B" r="11.5"/><rect y="-13" width="16.7" height="13"/><text x="1.2" y="-2.6" textLength="14.2" lengthAdjust="spacingAndGlyphs">Lux</text></g>
<g id="Velkoz" transform="translate(783 370)"><circle class="B" r="11.5"/><rect y="-13" width="28.9" height="13"/><text x="1.2" y="-2.6" textLength="26.4" lengthAdjust="spacingAndGlyphs">Velkoz</text></g>
<g id="Singed" transform="translate(870 367)"><circle class="R" r="11.5"/><rect y="-13" width="29.9" height="13"/><text x="1.2" y="-2.6" textLength="27.4" lengthAdjust="spacingAndGlyphs">Singed</text></g>
<g id="Thresh" transform="translate(655 395)"><circle class="Y" r="11.5"/><rect y="-13" width="29.9" height="13"/><text x="1.2" y="-2.6" textLength="27.4" lengthAdjust="spacingAndGlyphs">Thresh</text></g>
<g id="Veigar" transform="translate(680 406)"><circle class="B" r="11.5"/><rect y="-13" width="27.9" height="13"/><text x="1.2" y="-2.6" textLength="25.4" lengthAdjust="spacingAndGlyphs">Veigar</text></g>
<g id="Lucian" transform="translate(1017 239)"><circle class="O" r="11.5"/><rect y="-13" width="28.4" height="13"/><text x="1.2" y="-2.6" textLength="25.9" lengthAdjust="spacingAndGlyphs">Lucian</text></g>
<g id="KogMaw" transform="translate(1107 262)"><circle class="O" r="11.5"/><rect y="-13" width="36.7" height="13"/><text x="1.2" y="-2.6" textLength="34.2" lengthAdjust="spacingAndGlyphs">KogMaw</text></g>
<g id="Kalista" transform="translate(1087 277)"><circle class="O" r="11.5"/><rect y="-13" width="28.9" height="13"/><text x="1.2" y="-2.6" textLength="26.4" lengthAdjust="spacingAndGlyphs">Kalista</text></g>
<g id="Sivir" transform="translate(1177 266)"><circle class="O" r="11.5"/><rect y="-13" width="19.6" height="13"/><text x="1.2" y="-2.6" textLength="17.1" lengthAdjust="spacingAndGlyphs">Sivir</text></g>
<g id="Ezreal" transform="translate(1018 284)"><circle class="O" r="11.5"/><rect y="-13" width="27.4" height="13"/><text x="1.2" y="-2.6" textLength="24.9" lengthAdjust="spacingAndGlyphs">Ezreal</text></g>
<g id="Jinx" transform="translate(1145 296)"><circle class="O" r="11.5"/><rect y="-13" width="18.1" height="13"/><text x="1.2" y="-2.6" textLength="15.6" lengthAdjust="spacingAndGlyphs">Jinx</text></g>
<g id="Caitlyn" transform="translate(1111 292)"><circle class="O" r="11.5"/><rect y="-13" width="29.4" height="13"/><text x="1.2" y="-2.6" textLength="26.9" lengthAdjust="spacingAndGlyphs">Caitlyn</text></g>
<g id="Varus" transform="translate(1157 313)"><circle class="O" r="11.5"/><rect y="-13" width="25.5" height="13"/><text x="1.2" y="-2.6" textLength="23" lengthAdjust="spacingAndGlyphs">Varus</text></g>
<g id="Syndra" transform="translate(918 288)"><circle class="B" r="11.5"/><rect y="-13" width="30.4" height="13"/><text x="1.2" y="-2.6" textLength="27.9" lengthAdjust="spacingAndGlyphs">Syndra</text></g>
<g id="Tristana" transform="translate(980 300)"><circle class="O" r="11.5"/><rect y="-13" width="34.3" height="13"/><text x="1.2" y="-2.6" textLength="31.8" lengthAdjust="spacingAndGlyphs">Tristana</text></g>
<g id="MissFortune" transform="translate(1014 314)"><circle class="O" r="11.5"/><rect y="-13" width="50.9" height="13"/><text x="1.2" y="-2.6" textLength="48.4" lengthAdjust="spacingAndGlyphs">MissFortune</text></g>
<g id="Ashe" transform="translate(1091 346)"><circle class="O" r="11.5"/><rect y="-13" width="22.6" height="13"/><text x="1.2" y="-2.6" textLength="20.1" lengthAdjust="spacingAndGlyphs">Ashe</text></g>
<g id="TahmKench" transform="translate(914 343)"><circle class="Y" r="11.5"/><rect y="-13" width="49.9" height="13"/><text x="1.2" y="-2.6" textLength="47.4" lengthAdjust="spacingAndGlyphs">TahmKench</text></g>
<g id="Galio" transform="translate(956 372)"><circle class="B" r="11.5"/><rect y="-13" width="23" height="13"/><text x="1.2" y="-2.6" textLength="20.5" lengthAdjust="spacingAndGlyphs">Galio</text></g>
<g id="Fiddlesticks" transform="translate(925 392)"><circle class="G" r="11.5"/><rect y="-13" width="48.5" height="13"/><text x="1.2" y="-2.6" textLength="46" lengthAdjust="spacingAndGlyphs">Fiddlesticks</text></g>
<g id="Morgana" transform="translate(756 418)"><circle class="Y" r="11.5"/><rect y="-13" width="37.2" height="13"/><text x="1.2" y="-2.6" textLength="34.7" lengthAdjust="spacingAndGlyphs">Morgana</text></g>
<g id="Taric" transform="translate(847 411)"><circle class="Y" r="11.5"/><rect y="-13" width="22.1" height="13"/><text x="1.2" y="-2.6" textLength="19.6" lengthAdjust="spacingAndGlyphs">Taric</text></g>
<g id="Karma" transform="translate(900 416)"><circle class="Y" r="11.5"/><rect y="-13" width="28.4" height="13"/><text x="1.2" y="-2.6" textLength="25.9" lengthAdjust="spacingAndGlyphs">Karma</text></g>
<g id="Janna" transform="translate(852 453)"><circle class="Y" r="11.5"/><rect y="-13" width="26.5" height="13"/><text x="1.2" y="-2.6" textLength="24" lengthAdjust="spacingAndGlyphs">Janna</text></g>
<g id="Ivern" transform="translate(673 453)"><circle class="G" r="11.5"/><rect y="-13" width="22.1" height="13"/><text x="1.2" y="-2.6" textLength="19.6" lengthAdjust="spacingAndGlyphs">Ivern</text></g>
<g id="Leona" transform="translate(641 468)"><circle class="Y" r="11.5"/><rect y="-13" width="27" height="13"/><text x="1.2" y="-2.6" textLength="24.5" lengthAdjust="spacingAndGlyphs">Leona</text></g>
<g id="Bard" transform="translate(701 497)"><circle class="Y" r="11.5"/><rect y="-13" width="21.1" height="13"/><text x="1.2" y="-2.6" textLength="18.6" lengthAdjust="spacingAndGlyphs">Bard</text></g>
<g id="Pyke" transform="translate(769 490)"><circle class="Y" r="11.5"/><rect y="-13" width="22.1" height="13"/><text x="1.2" y="-2.6" textLength="19.6" lengthAdjust="spacingAndGlyphs">Pyke</text></g>
<g id="Nautilus" transform="translate(845 488)"><circle class="Y" r="11.5"/><rect y="-13" width="34.3" height="13"/><text x="1.2" y="-2.6" textLength="31.8" lengthAdjust="spacingAndGlyphs">Nautilus</text></g>
<g id="Zilean" transform="translate(875 510)"><circle class="Y" r="11.5"/><rect y="-13" width="26.5" height="13"/><text x="1.2" y="-2.6" textLength="24" lengthAdjust="spacingAndGlyphs">Zilean</text></g>
<g id="Rakan" transform="translate(740 520)"><circle class="Y" r="11.5"/><rect y="-13" width="27.9" height="13"/><text x="1.2" y="-2.6" textLength="25.4" lengthAdjust="spacingAndGlyphs">Rakan</text></g>
<g id="Braum" transform="translate(784 517)"><circle class="Y" r="11.5"/><rect y="-13" width="28.4" height="13"/><text x="1.2" y="-2.6" textLength="25.9" lengthAdjust="spacingAndGlyphs">Braum</text></g>
<g id="Alistar" transform="translate(676 533)"><circle class="Y" r="11.5"/><rect y="-13" width="26.9" height="13"/><text x="1.2" y="-2.6" textLength="24.4" lengthAdjust="spacingAndGlyphs">Alistar</text></g>
<g id="Nami" transform="translate(988 418)"><circle class="Y" r="11.5"/><rect y="-13" width="23" height="13"/><text x="1.2" y="-2.6" textLength="20.5" lengthAdjust="spacingAndGlyphs">Nami</text></g>
<g id="Neeko" transform="translate(1094 418)"><circle class="B" r="11.5"/><rect y="-13" width="27.9" height="13"/><text x="1.2" y="-2.6" textLength="25.4" lengthAdjust="spacingAndGlyphs">Neeko</text></g>
<g id="Sona" transform="translate(1016 453)"><circle class="Y" r="11.5"/><rect y="-13" width="23" height="13"/><text x="1.2" y="-2.6" textLength="20.5" lengthAdjust="spacingAndGlyphs">Sona</text></g>
<g id="Zyra" transform="translate(967 470)"><circle class="Y" r="11.5"/><rect y="-13" width="20.1" height="13"/><text x="1.2" y="-2.6" textLength="17.6" lengthAdjust="spacingAndGlyphs">Zyra</text></g>
<g id="Lulu" transform="translate(1008 494)"><circle class="Y" r="11.5"/><rect y="-13" width="19.1" height="13"/><text x="1.2" y="-2.6" textLength="16.6" lengthAdjust="spacingAndGlyphs">Lulu</text></g>
<g id="Soraka" transform="translate(1041 519)"><circle class="Y" r="11.5"/><rect y="-13" width="29.9" height="13"/><text x="1.2" y="-2.6" textLength="27.4" lengthAdjust="spacingAndGlyphs">Soraka</text></g>
</svg>
